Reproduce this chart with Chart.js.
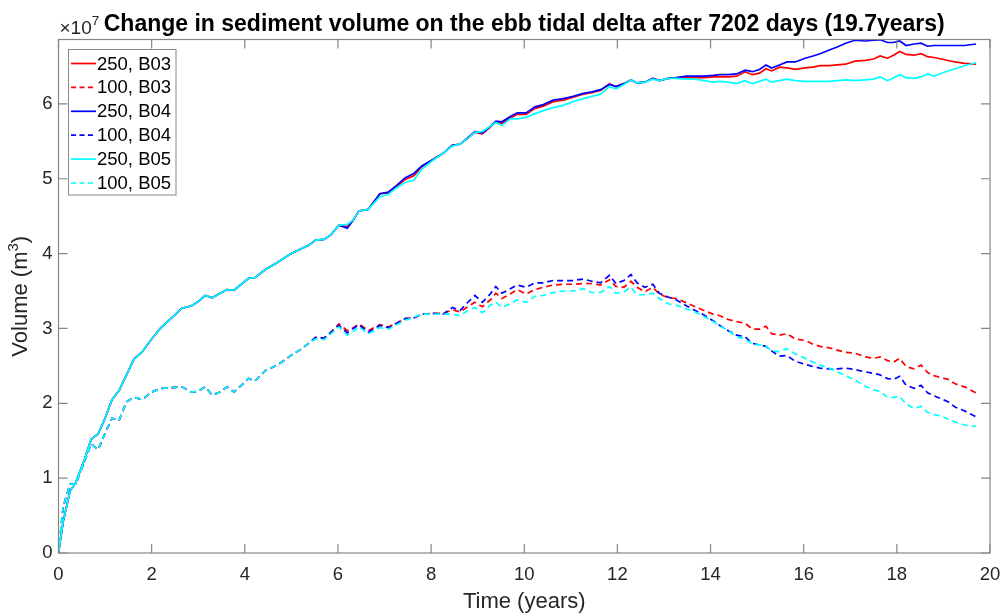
<!DOCTYPE html>
<html>
<head>
<meta charset="utf-8">
<script src="https://cdn.jsdelivr.net/npm/chart.js@4/dist/chart.umd.min.js"></script>
<style>
  html, body { margin: 0; padding: 0; background: #ffffff; }
  #wrap { width: 1006px; height: 614px; }
</style>
</head>
<body>
<div id="wrap"><canvas id="c" width="1006" height="614"></canvas></div>
<script>
// Time axis (years since start of the run)
const years = [
  0, 0.1, 0.25, 0.37, 0.57, 0.7, 0.85, 1.0, 1.15, 1.3,
  1.46, 1.62, 1.8, 2.0, 2.2, 2.43, 2.65, 2.85, 3.0, 3.15,
  3.3, 3.47, 3.62, 3.77, 4.08, 4.22, 4.45, 4.7, 4.97, 5.2,
  5.37, 5.52, 5.7, 5.85, 6.02, 6.2, 6.33, 6.45, 6.65, 6.9,
  7.08, 7.26, 7.44, 7.63, 7.8, 8.05, 8.26, 8.46, 8.62, 8.79,
  8.94, 9.1, 9.27, 9.39, 9.52, 9.7, 9.85, 10.04, 10.23, 10.41,
  10.62, 10.84, 11.05, 11.27, 11.45, 11.64, 11.83, 11.97, 12.14, 12.29,
  12.42, 12.59, 12.76, 12.9, 13.09, 13.27, 13.49, 13.67, 13.86, 14.06,
  14.2, 14.38, 14.56, 14.74, 14.9, 15.05, 15.19, 15.31, 15.48, 15.64,
  15.82, 16.03, 16.2, 16.35, 16.55, 16.72, 16.9, 17.1, 17.32, 17.5,
  17.64, 17.8, 17.93, 18.06, 18.2, 18.37, 18.52, 18.66, 18.8, 18.95,
  19.1, 19.25, 19.45, 19.7
];

// Sediment volume change, in units of 1e7 m^3
const vol250B03 = [
  0, 0.42, 0.83, 0.94, 1.27, 1.52, 1.59, 1.80, 2.05, 2.17,
  2.38, 2.59, 2.69, 2.86, 3.01, 3.14, 3.27, 3.30, 3.36, 3.44,
  3.41, 3.47, 3.52, 3.51, 3.67, 3.68, 3.79, 3.88, 3.99, 4.06,
  4.11, 4.18, 4.19, 4.25, 4.38, 4.36, 4.45, 4.57, 4.59, 4.80,
  4.81, 4.90, 4.99, 5.04, 5.16, 5.26, 5.34, 5.45, 5.46, 5.54,
  5.62, 5.60, 5.69, 5.76, 5.74, 5.81, 5.86, 5.86, 5.94, 5.97,
  6.03, 6.05, 6.09, 6.13, 6.15, 6.18, 6.27, 6.23, 6.27, 6.32,
  6.28, 6.29, 6.34, 6.31, 6.34, 6.35, 6.35, 6.35, 6.35, 6.36,
  6.36, 6.36, 6.37, 6.43, 6.39, 6.41, 6.47, 6.44, 6.49, 6.48,
  6.46, 6.48, 6.49, 6.51, 6.51, 6.52, 6.53, 6.57, 6.58, 6.60,
  6.64, 6.61, 6.65, 6.70, 6.66, 6.65, 6.67, 6.63, 6.62, 6.60,
  6.58, 6.56, 6.54, 6.53
];
const vol100B03 = [
  0, 0.62, 0.92, 0.92, 1.24, 1.46, 1.38, 1.60, 1.80, 1.77,
  2.02, 2.08, 2.05, 2.15, 2.20, 2.21, 2.22, 2.15, 2.16, 2.22,
  2.11, 2.15, 2.22, 2.15, 2.33, 2.30, 2.44, 2.51, 2.63, 2.72,
  2.80, 2.88, 2.87, 2.95, 3.06, 2.97, 3.01, 3.06, 2.97, 3.05,
  3.02, 3.07, 3.13, 3.14, 3.19, 3.20, 3.20, 3.25, 3.22, 3.29,
  3.35, 3.29, 3.38, 3.47, 3.40, 3.46, 3.52, 3.46, 3.52, 3.55,
  3.58, 3.59, 3.59, 3.60, 3.60, 3.58, 3.65, 3.56, 3.55, 3.63,
  3.55, 3.49, 3.55, 3.46, 3.41, 3.40, 3.34, 3.29, 3.24, 3.19,
  3.17, 3.12, 3.09, 3.07, 2.99, 2.99, 3.03, 2.93, 2.91, 2.93,
  2.86, 2.84, 2.79, 2.76, 2.74, 2.71, 2.68, 2.67, 2.62, 2.60,
  2.62, 2.57, 2.55, 2.60, 2.49, 2.46, 2.51, 2.41, 2.37, 2.34,
  2.32, 2.26, 2.22, 2.14
];
const vol250B04 = [
  0, 0.42, 0.83, 0.94, 1.27, 1.52, 1.59, 1.80, 2.05, 2.17,
  2.38, 2.59, 2.69, 2.86, 3.01, 3.14, 3.27, 3.30, 3.36, 3.44,
  3.41, 3.47, 3.52, 3.51, 3.67, 3.68, 3.79, 3.88, 3.99, 4.06,
  4.11, 4.18, 4.19, 4.25, 4.38, 4.34, 4.45, 4.57, 4.59, 4.80,
  4.82, 4.91, 5.01, 5.07, 5.17, 5.26, 5.34, 5.45, 5.46, 5.55,
  5.63, 5.61, 5.70, 5.77, 5.76, 5.83, 5.88, 5.88, 5.96, 5.99,
  6.05, 6.07, 6.10, 6.14, 6.16, 6.19, 6.26, 6.23, 6.27, 6.32,
  6.28, 6.29, 6.34, 6.31, 6.34, 6.35, 6.37, 6.37, 6.37, 6.38,
  6.39, 6.39, 6.40, 6.45, 6.43, 6.46, 6.52, 6.48, 6.52, 6.56,
  6.56, 6.61, 6.64, 6.67, 6.72, 6.76, 6.81, 6.85, 6.84, 6.85,
  6.856, 6.82, 6.82, 6.84, 6.78, 6.80, 6.81, 6.77, 6.78, 6.78,
  6.78, 6.78, 6.78, 6.80
];
const vol100B04 = [
  0, 0.62, 0.92, 0.92, 1.24, 1.46, 1.38, 1.60, 1.80, 1.77,
  2.02, 2.08, 2.05, 2.15, 2.20, 2.21, 2.22, 2.15, 2.16, 2.22,
  2.11, 2.15, 2.22, 2.15, 2.33, 2.30, 2.44, 2.51, 2.63, 2.72,
  2.80, 2.88, 2.87, 2.95, 3.04, 2.94, 3.00, 3.05, 2.95, 3.04,
  3.01, 3.07, 3.13, 3.14, 3.19, 3.20, 3.19, 3.28, 3.24, 3.35,
  3.44, 3.35, 3.46, 3.56, 3.47, 3.53, 3.58, 3.55, 3.61, 3.61,
  3.64, 3.64, 3.64, 3.66, 3.63, 3.61, 3.71, 3.60, 3.64, 3.72,
  3.61, 3.55, 3.59, 3.47, 3.42, 3.38, 3.30, 3.24, 3.18, 3.10,
  3.04, 2.97, 2.91, 2.89, 2.80, 2.78, 2.76, 2.70, 2.63, 2.64,
  2.56, 2.52, 2.49, 2.47, 2.46, 2.46, 2.47, 2.45, 2.42, 2.40,
  2.38, 2.33, 2.32, 2.36, 2.24, 2.20, 2.24, 2.14, 2.10, 2.06,
  2.02, 1.95, 1.90, 1.82
];
const vol250B05 = [
  0, 0.42, 0.83, 0.94, 1.27, 1.52, 1.59, 1.80, 2.05, 2.17,
  2.38, 2.59, 2.69, 2.86, 3.01, 3.14, 3.27, 3.30, 3.36, 3.44,
  3.41, 3.47, 3.52, 3.51, 3.67, 3.68, 3.79, 3.88, 3.99, 4.06,
  4.11, 4.18, 4.19, 4.25, 4.38, 4.39, 4.45, 4.57, 4.59, 4.76,
  4.79, 4.88, 4.95, 4.98, 5.13, 5.25, 5.34, 5.44, 5.46, 5.54,
  5.62, 5.63, 5.70, 5.75, 5.71, 5.80, 5.80, 5.82, 5.87, 5.91,
  5.95, 5.98, 6.03, 6.07, 6.10, 6.13, 6.23, 6.20, 6.26, 6.32,
  6.28, 6.29, 6.33, 6.31, 6.34, 6.34, 6.33, 6.33, 6.31, 6.29,
  6.30, 6.29, 6.27, 6.31, 6.27, 6.30, 6.33, 6.29, 6.31, 6.33,
  6.31, 6.30, 6.30, 6.30, 6.30, 6.31, 6.32, 6.31, 6.32, 6.33,
  6.36, 6.31, 6.35, 6.39, 6.35, 6.34, 6.36, 6.40, 6.37, 6.41,
  6.44, 6.47, 6.51, 6.55
];
const vol100B05 = [
  0, 0.62, 0.92, 0.92, 1.24, 1.46, 1.38, 1.60, 1.80, 1.77,
  2.02, 2.08, 2.05, 2.15, 2.20, 2.21, 2.22, 2.15, 2.16, 2.22,
  2.11, 2.15, 2.22, 2.15, 2.33, 2.30, 2.44, 2.51, 2.63, 2.72,
  2.80, 2.86, 2.85, 2.93, 3.02, 2.91, 2.96, 3.02, 2.93, 3.01,
  2.99, 3.05, 3.11, 3.15, 3.19, 3.19, 3.19, 3.19, 3.17, 3.24,
  3.28, 3.21, 3.31, 3.35, 3.28, 3.33, 3.38, 3.35, 3.43, 3.44,
  3.48, 3.50, 3.50, 3.53, 3.48, 3.48, 3.56, 3.47, 3.49, 3.55,
  3.45, 3.45, 3.47, 3.40, 3.33, 3.31, 3.26, 3.22, 3.16, 3.09,
  3.04, 2.97, 2.89, 2.86, 2.79, 2.78, 2.76, 2.70, 2.69, 2.73,
  2.66, 2.60, 2.55, 2.51, 2.47, 2.42, 2.37, 2.31, 2.23, 2.18,
  2.16, 2.08, 2.08, 2.09, 1.99, 1.93, 1.96, 1.88, 1.85, 1.83,
  1.79, 1.75, 1.71, 1.69
];

const xTicks = [0, 2, 4, 6, 8, 10, 12, 14, 16, 18, 20];
const yTicks = [0, 1, 2, 3, 4, 5, 6];

const seriesNames = ['250, B03', '100, B03', '250, B04', '100, B04', '250, B05', '100, B05'];
const seriesData = [vol250B03, vol100B03, vol250B04, vol100B04, vol250B05, vol100B05];
const seriesColors = ['#ff0000', '#ff0000', '#0000ff', '#0000ff', '#00ffff', '#00ffff'];
const seriesDashed = [false, true, false, true, false, true];

const TEXT = '#262626';
const AXIS = '#858585';
const FONT = '"Liberation Sans", Arial, Helvetica, sans-serif';
const DASH = [6, 4];

const datasets = seriesNames.map((name, i) => ({
  label: name,
  data: years.map((t, k) => ({ x: t, y: seriesData[i][k] })),
  borderColor: seriesColors[i],
  backgroundColor: seriesColors[i],
  borderWidth: 1.7,
  borderDash: seriesDashed[i] ? DASH : [],
  pointRadius: 0,
  tension: 0,
  fill: false,
  order: seriesNames.length - i   // later series are painted on top
}));

// Box, inward tick marks, titles and in-axes legend
const framePlugin = {
  id: 'frame',
  afterDatasetsDraw(chart) {
    const ctx = chart.ctx;
    const a = chart.chartArea;
    const xs = chart.scales.x, ys = chart.scales.y;
    const TL = 9;
    ctx.save();
    ctx.strokeStyle = AXIS;
    ctx.lineWidth = 1.2;
    ctx.setLineDash([]);
    ctx.strokeRect(a.left, a.top, a.right - a.left, a.bottom - a.top);
    ctx.beginPath();
    xTicks.forEach(v => {
      const px = xs.getPixelForValue(v);
      ctx.moveTo(px, a.bottom); ctx.lineTo(px, a.bottom - TL);
      ctx.moveTo(px, a.top); ctx.lineTo(px, a.top + TL);
    });
    yTicks.forEach(v => {
      const py = ys.getPixelForValue(v);
      ctx.moveTo(a.left, py); ctx.lineTo(a.left + TL, py);
      ctx.moveTo(a.right, py); ctx.lineTo(a.right - TL, py);
    });
    ctx.stroke();

    // Legend
    const lx = a.left + 10, ly = a.top + 10, lw = 107.5, lh = 145.5;
    ctx.fillStyle = '#ffffff';
    ctx.fillRect(lx, ly, lw, lh);
    ctx.strokeStyle = '#8a8a8a';
    ctx.lineWidth = 1;
    ctx.strokeRect(lx, ly, lw, lh);
    ctx.font = '18.5px ' + FONT;
    ctx.textBaseline = 'middle';
    ctx.textAlign = 'left';
    seriesNames.forEach((name, i) => {
      const cy = ly + 14 + i * 23.9;
      ctx.strokeStyle = seriesColors[i];
      ctx.lineWidth = 1.7;
      ctx.setLineDash(seriesDashed[i] ? [5, 3.5] : []);
      ctx.beginPath();
      ctx.moveTo(lx + 2.5, cy);
      ctx.lineTo(lx + 27.5, cy);
      ctx.stroke();
      ctx.setLineDash([]);
      ctx.fillStyle = '#000000';
      ctx.fillText(name, lx + 28.5, cy + 1);
    });

    // Exponent marker of the y axis
    ctx.fillStyle = TEXT;
    ctx.font = '19px ' + FONT;
    ctx.textBaseline = 'alphabetic';
    ctx.fillText('\u00d710', a.left + 1, a.top - 6);
    const w10 = ctx.measureText('\u00d710').width;
    ctx.font = '13.5px ' + FONT;
    ctx.fillText('7', a.left + 1 + w10, a.top - 15);

    // Title
    ctx.fillStyle = '#000000';
    ctx.font = 'bold 23px ' + FONT;
    ctx.textAlign = 'center';
    ctx.fillText('Change in sediment volume on the ebb tidal delta after 7202 days (19.7years)',
      (a.left + a.right) / 2, 31);

    // Axis titles
    ctx.fillStyle = TEXT;
    ctx.font = '22px ' + FONT;
    ctx.textBaseline = 'middle';
    ctx.fillText('Time (years)', (a.left + a.right) / 2, 602);
    ctx.save();
    ctx.translate(21, (a.top + a.bottom) / 2);
    ctx.rotate(-Math.PI / 2);
    ctx.textAlign = 'left';
    const base = ctx.measureText('Volume (m').width;
    ctx.font = '15px ' + FONT;
    const sup = ctx.measureText('3').width;
    ctx.font = '22px ' + FONT;
    const close = ctx.measureText(')').width;
    const start = -(base + sup + close) / 2;
    ctx.fillText('Volume (m', start, 0);
    ctx.font = '15px ' + FONT;
    ctx.fillText('3', start + base, -7);
    ctx.font = '22px ' + FONT;
    ctx.fillText(')', start + base + sup, 0);
    ctx.restore();
    ctx.restore();
  }
};

new Chart(document.getElementById('c'), {
  type: 'line',
  data: { datasets },
  options: {
    responsive: false,
    animation: false,
    devicePixelRatio: 1,
    layout: { padding: { top: 39.5, right: 16, left: 0, bottom: 0 } },
    plugins: { legend: { display: false }, tooltip: { enabled: false }, title: { display: false } },
    scales: {
      x: {
        type: 'linear', min: 0, max: 20,
        afterFit(s) { s.height = 61; s.paddingLeft = 0; s.paddingRight = 0; },
        afterBuildTicks(s) { s.ticks = xTicks.map(v => ({ value: v })); },
        grid: { display: false, drawTicks: false },
        border: { display: false },
        ticks: { color: TEXT, font: { size: 18.5, family: FONT }, padding: 11, maxRotation: 0 }
      },
      y: {
        type: 'linear', min: 0, max: 6.86,
        afterFit(s) { s.width = 58.5; s.paddingTop = 0; s.paddingBottom = 0; },
        afterBuildTicks(s) { s.ticks = yTicks.map(v => ({ value: v })); },
        grid: { display: false, drawTicks: false },
        border: { display: false },
        ticks: { color: TEXT, font: { size: 18.5, family: FONT }, padding: 6 }
      }
    }
  },
  plugins: [framePlugin]
});
</script>
</body>
</html>
